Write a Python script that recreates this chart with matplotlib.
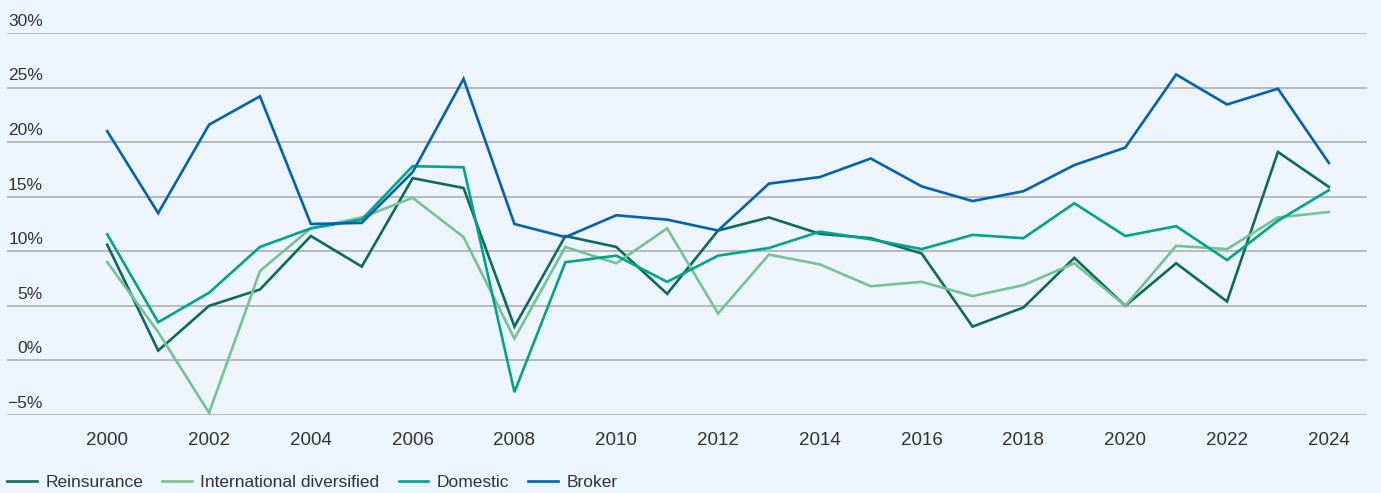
import matplotlib
matplotlib.use("Agg")
import matplotlib.pyplot as plt
import matplotlib.transforms as mtransforms

plt.rcParams['font.family'] = ['Liberation Sans', 'DejaVu Sans']

years = list(range(2000, 2025))

reinsurance = [10.6, 0.9, 5.0, 6.5, 11.4, 8.6, 16.7, 15.8, 3.1, 11.4, 10.4, 6.1, 11.9,
               13.1, 11.6, 11.2, 9.8, 3.1, 4.85, 9.4, 5.0, 8.9, 5.4, 19.1, 15.9]
intl_diversified = [9.0, 2.6, -4.8, 8.2, 12.1, 13.1, 14.9, 11.3, 2.0, 10.4, 8.9, 12.1, 4.3,
                    9.7, 8.8, 6.8, 7.2, 5.9, 6.9, 8.9, 5.0, 10.5, 10.2, 13.1, 13.6]
domestic = [11.55, 3.5, 6.2, 10.4, 12.1, 12.9, 17.8, 17.7, -2.9, 9.0, 9.6, 7.2, 9.6,
            10.3, 11.8, 11.1, 10.2, 11.5, 11.2, 14.4, 11.4, 12.3, 9.2, 12.8, 15.6]
broker = [21.0, 13.5, 21.6, 24.2, 12.5, 12.6, 17.25, 25.8, 12.5, 11.3, 13.3, 12.9, 11.9,
          16.2, 16.8, 18.5, 15.95, 14.6, 15.5, 17.9, 19.5, 26.2, 23.45, 24.9, 18.1]

series = [
    ("Reinsurance", reinsurance, "#0b6b5d"),
    ("International diversified", intl_diversified, "#74c48f"),
    ("Domestic", domestic, "#00a48a"),
    ("Broker", broker, "#0062b2"),
]

y_ticks = [-5, 0, 5, 10, 15, 20, 25, 30]
y_labels = ["\u22125%", "0%", "5%", "10%", "15%", "20%", "25%", "30%"]
x_ticks = list(range(2000, 2025, 2))

bg = "#edf4fc"
W, H = 1381, 493
fig = plt.figure(figsize=(W / 100, H / 100), dpi=100, facecolor=bg)
ax = fig.add_axes([7 / W, 1 - 415 / H, 1360 / W, (415 - 33) / H])
ax.set_facecolor(bg)

for name, vals, col in series:
    ax.plot(years, vals, color=col, lw=1.9, label=name, clip_on=False,
            solid_joinstyle='miter')

ax.set_xlim(1998.03, 2024.75)
ax.set_ylim(-5, 30)

for v in y_ticks:
    ax.axhline(v, color="#a7aaaf", lw=1.1, zorder=0)

ax.set_yticks([])
ax.set_xticks(x_ticks)
ax.set_xticklabels([str(x) for x in x_ticks], fontsize=13.5, color="#333333")
ax.tick_params(axis='x', length=0, pad=12)
for s in ax.spines.values():
    s.set_visible(False)

trans = mtransforms.blended_transform_factory(ax.transAxes, ax.transData)
for v, lab in zip(y_ticks, y_labels):
    ax.annotate(lab, xy=(36 / 1360, v), xycoords=trans, xytext=(0, 3),
                textcoords='offset points', ha='right', va='bottom',
                fontsize=12.5, color="#333333")

fig.legend(loc='center left', bbox_to_anchor=(7 / W, 1 - 482 / H), ncol=4,
           frameon=False, fontsize=12.5, handlelength=1.7, handletextpad=0.5,
           columnspacing=1.1, borderaxespad=0, borderpad=0, labelcolor="#333333")

fig.savefig("out.png", dpi=100, facecolor=bg)
